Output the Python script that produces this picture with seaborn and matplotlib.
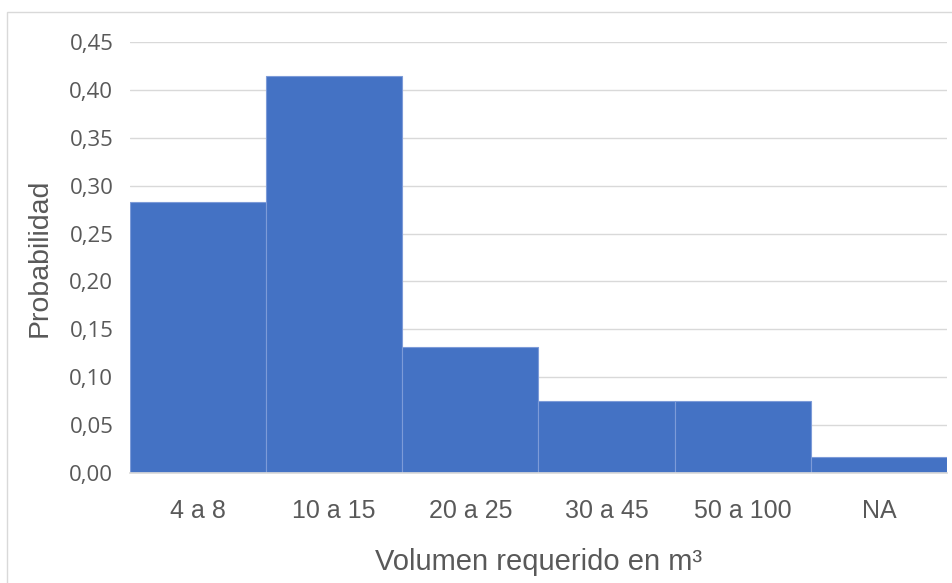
import matplotlib
matplotlib.use("Agg")
import matplotlib.pyplot as plt
import pandas as pd
import seaborn as sns
from matplotlib.patches import Rectangle
from matplotlib.ticker import FuncFormatter, MultipleLocator

categorias = ["4 a 8", "10 a 15", "20 a 25", "30 a 45", "50 a 100", "NA"]
probabilidad = [0.283, 0.415, 0.132, 0.075, 0.075, 0.017]

df = pd.DataFrame({"Volumen": categorias, "Probabilidad": probabilidad})

sns.set_theme(style="white")
plt.rcParams["font.family"] = ["Liberation Sans", "DejaVu Sans"]

fig = plt.figure(figsize=(9.52, 5.83), dpi=100)
ax = fig.add_axes([130 / 952, 1 - 473 / 583, 817 / 952, 431 / 583])

sns.barplot(
    data=df, x="Volumen", y="Probabilidad", color="#4472C4", saturation=1,
    width=1.0, edgecolor="#7D9BD8", linewidth=0.8, ax=ax, zorder=2,
)

ax.set_xlim(-0.5, 5.5)
ax.set_ylim(0, 0.45)
ax.yaxis.set_major_locator(MultipleLocator(0.05))
ax.yaxis.set_major_formatter(FuncFormatter(lambda v, p: f"{v:.2f}".replace(".", ",")))
ax.grid(axis="y", color="#D9D9D9", linewidth=1, zorder=0)
ax.set_axisbelow(True)
for s in ["top", "right", "left"]:
    ax.spines[s].set_visible(False)
ax.spines["bottom"].set_color("#D9D9D9")

ax.tick_params(axis="y", length=0, labelsize=16, labelcolor="#595959", pad=12)
ax.tick_params(axis="x", length=0, labelsize=18, labelcolor="#595959", pad=19)
for t in ax.get_yticklabels():
    t.set_family(["Open Sans", "DejaVu Sans"])

ax.set_xlabel("Volumen requerido en m³", fontsize=21, color="#595959", labelpad=18)
ax.set_ylabel("Probabilidad", fontsize=20.5, color="#595959", labelpad=12)

fig.patches.append(Rectangle((7 / 952, -0.01), 1.0, 1 - 12 / 583 + 0.01,
                             transform=fig.transFigure, fill=False,
                             edgecolor="#D9D9D9", linewidth=1))

fig.savefig("out.png", dpi=100)
